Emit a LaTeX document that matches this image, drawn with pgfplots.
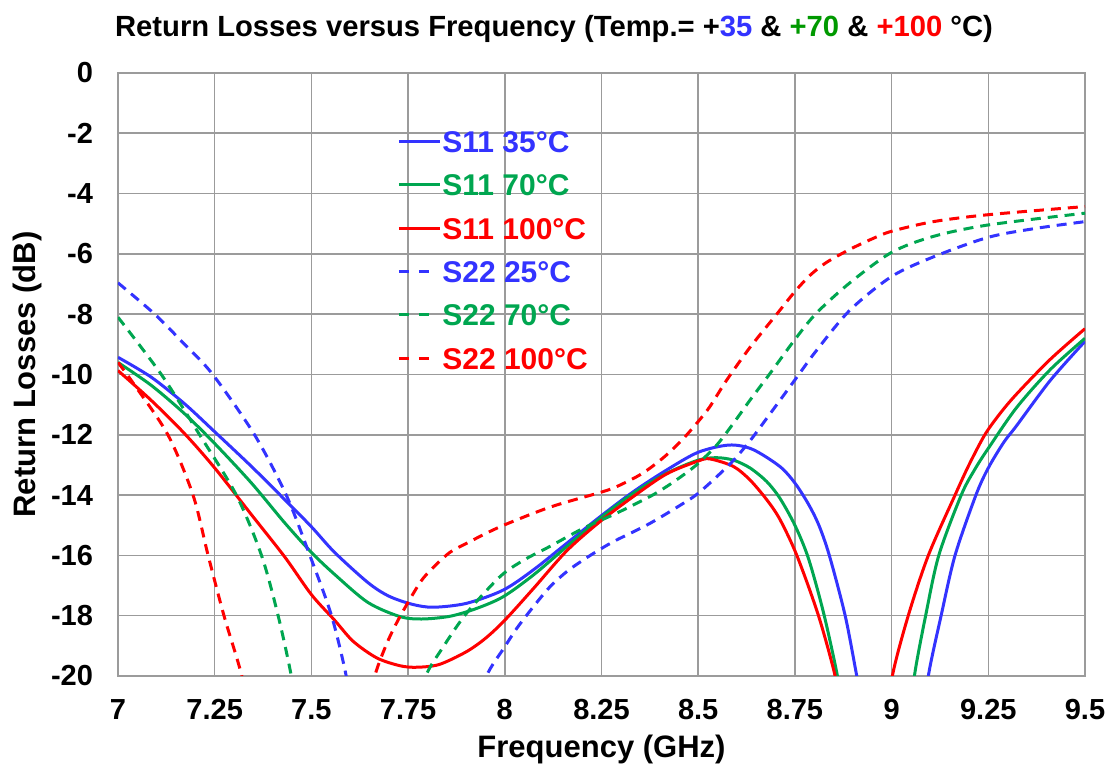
\documentclass[border=0pt]{standalone}
\usepackage{fontspec}
\setmainfont{Liberation Sans}
\usepackage{pgfplots}
\pgfplotsset{compat=1.18}
\usepackage{pgfplotstable}

\definecolor{cb}{RGB}{51,51,255}
\definecolor{cg}{RGB}{0,166,80}
\definecolor{cr}{RGB}{255,0,0}
\definecolor{tg}{RGB}{0,153,0}
\definecolor{gridc}{RGB}{155,155,155}

\pgfplotsset{
    dashleg/.style={legend image code/.code={\draw[##1, dash pattern=on 5pt off 5pt] (0pt,0pt) -- (15pt,0pt);}},
}

% S11, solid
\pgfplotstableread{
f db
7.000 -9.43
7.086 -10.09
7.172 -10.97
7.250 -11.90
7.345 -13.05
7.431 -14.15
7.500 -15.05
7.560 -15.90
7.646 -16.90
7.700 -17.35
7.760 -17.62
7.815 -17.72
7.901 -17.59
7.996 -17.15
8.074 -16.48
8.160 -15.60
8.246 -14.72
8.332 -13.89
8.418 -13.17
8.500 -12.58
8.580 -12.34
8.640 -12.48
8.711 -13.05
8.750 -13.60
8.785 -14.30
8.812 -15.00
8.839 -16.00
8.880 -18.00
8.910 -20.00
8.925 -21.00
nan nan
9.085 -21.50
9.095 -20.00
9.128 -18.00
9.164 -16.00
9.218 -14.00
9.250 -13.10
9.290 -12.25
9.323 -11.70
9.410 -10.20
9.500 -8.90
}\sOneOneA

\pgfplotstableread{
f db
7.000 -9.60
7.086 -10.36
7.172 -11.30
7.250 -12.29
7.345 -13.60
7.431 -14.92
7.500 -15.90
7.560 -16.63
7.646 -17.56
7.729 -18.03
7.785 -18.11
7.858 -18.02
7.927 -17.76
7.996 -17.37
8.074 -16.65
8.160 -15.71
8.246 -14.77
8.332 -13.94
8.418 -13.28
8.500 -12.84
8.548 -12.76
8.591 -12.84
8.634 -13.10
8.677 -13.55
8.711 -14.10
8.750 -15.00
8.785 -16.10
8.824 -17.90
8.860 -20.00
8.870 -21.00
nan nan
9.050 -21.50
9.059 -20.00
9.088 -18.00
9.122 -16.00
9.180 -14.00
9.215 -13.15
9.250 -12.45
9.323 -11.10
9.410 -9.84
9.500 -8.80
}\sOneOneB

\pgfplotstableread{
f db
7.000 -9.87
7.086 -10.86
7.172 -11.96
7.250 -13.10
7.345 -14.65
7.431 -16.05
7.500 -17.30
7.560 -18.15
7.608 -18.85
7.669 -19.40
7.729 -19.66
7.772 -19.71
7.830 -19.62
7.900 -19.20
7.950 -18.75
8.000 -18.15
8.074 -17.10
8.160 -15.85
8.246 -14.88
8.332 -14.05
8.418 -13.30
8.500 -12.87
8.530 -12.80
8.591 -13.05
8.634 -13.50
8.677 -14.15
8.711 -14.80
8.755 -16.00
8.811 -18.00
8.854 -20.00
8.864 -21.00
nan nan
8.992 -21.50
9.002 -20.00
9.043 -18.00
9.095 -16.00
9.164 -14.00
9.200 -13.00
9.241 -12.00
9.280 -11.30
9.323 -10.65
9.410 -9.50
9.500 -8.48
}\sOneOneC

% S22, dashed
\pgfplotstableread{
f db
7.000 -6.96
7.095 -8.00
7.172 -9.00
7.245 -10.00
7.353 -12.00
7.435 -14.00
7.496 -16.00
7.552 -18.00
7.590 -20.00
7.598 -21.00
nan nan
7.945 -21.00
7.953 -20.00
8.000 -19.03
8.031 -18.42
8.074 -17.70
8.117 -17.04
8.160 -16.54
8.203 -16.15
8.250 -15.77
8.289 -15.49
8.375 -14.94
8.462 -14.27
8.500 -13.94
8.548 -13.39
8.591 -12.85
8.634 -12.20
8.686 -11.30
8.750 -10.18
8.806 -9.20
8.892 -7.87
9.000 -6.75
9.108 -6.10
9.250 -5.45
9.375 -5.15
9.500 -4.93
}\sTwoTwoA

\pgfplotstableread{
f db
7.000 -8.10
7.112 -10.00
7.211 -12.00
7.306 -14.00
7.371 -16.00
7.414 -18.00
7.448 -20.00
7.456 -21.00
nan nan
7.790 -21.00
7.796 -20.00
7.841 -19.03
7.901 -17.92
7.988 -16.70
8.050 -16.15
8.117 -15.70
8.203 -15.10
8.289 -14.60
8.375 -14.05
8.418 -13.72
8.462 -13.33
8.500 -12.95
8.548 -12.34
8.591 -11.62
8.634 -10.85
8.686 -9.96
8.750 -8.84
8.806 -7.96
8.892 -6.96
9.000 -5.95
9.108 -5.42
9.250 -5.04
9.500 -4.65
}\sTwoTwoB

\pgfplotstableread{
f db
7.000 -9.60
7.040 -10.30
7.129 -12.00
7.194 -14.00
7.233 -16.00
7.274 -18.00
7.320 -20.00
7.326 -21.00
nan nan
7.655 -21.00
7.664 -20.00
7.695 -18.92
7.729 -18.03
7.781 -16.90
7.815 -16.40
7.858 -15.90
7.901 -15.60
7.988 -15.05
8.117 -14.40
8.250 -13.90
8.289 -13.72
8.341 -13.39
8.375 -13.11
8.418 -12.67
8.462 -12.12
8.500 -11.56
8.530 -11.07
8.574 -10.18
8.634 -9.10
8.703 -8.00
8.750 -7.25
8.790 -6.70
8.832 -6.28
8.892 -5.85
8.950 -5.50
9.000 -5.25
9.108 -4.93
9.250 -4.70
9.500 -4.43
}\sTwoTwoC

\begin{document}
\begin{tikzpicture}[font=\bfseries]
\begin{axis}[
    scale only axis,
    width=483.5pt, height=301.5pt,
    xmin=7, xmax=9.5,
    ymin=-20, ymax=0,
    xtick={7,7.25,7.5,7.75,8,8.25,8.5,8.75,9,9.25,9.5},
    xticklabels={7,7.25,7.5,7.75,8,8.25,8.5,8.75,9,9.25,9.5},
    ytick={-20,-18,-16,-14,-12,-10,-8,-6,-4,-2,0},
    yticklabels={-20,-18,-16,-14,-12,-10,-8,-6,-4,-2,0},
    grid=major,
    grid style={gridc, line width=0.8pt},
    axis line style={gridc, line width=1pt},
    tick style={draw=none},
    ticklabel style={font=\fontsize{14.5}{17}\bfseries},
    yticklabel style={xshift=-9pt},
    xticklabel style={yshift=-8pt},
    title={Return Losses versus Frequency (Temp.= +\textcolor{cb}{35} \& \textcolor{tg}{+70} \& \textcolor{cr}{+100} °C)},
    title style={at={(axis description cs:0.4509,1.053)}, anchor=center, font=\fontsize{14.6}{17}\bfseries},
    xlabel={Frequency (GHz)},
    ylabel={Return Losses (dB)},
    label style={font=\fontsize{15.5}{18}\bfseries},
    xlabel style={at={(axis description cs:0.5,-0.1227)}, anchor=center},
    ylabel style={at={(axis description cs:-0.0941,0.5)}, anchor=center},
    legend style={at={(axis description cs:0.2885,0.9055)}, anchor=north west,
        draw=none, fill=none, inner sep=0pt, row sep=10.7pt, column sep=0.5pt,
        nodes={inner sep=0pt, text height=11pt, text depth=0pt, font=\fontsize{15}{18}\bfseries}},
    legend cell align=left,
    legend image code/.code={\draw[#1] (0pt,0pt) -- (20.5pt,0pt);},
    unbounded coords=jump,
    every axis plot/.append style={line width=1.5pt, smooth},
]
\coordinate (O) at (rel axis cs:0,0);
\addplot[cb] table[x=f, y=db] {\sOneOneA};
\addlegendentry{\textcolor{cb}{S11 35°C}}
\addplot[cg] table[x=f, y=db] {\sOneOneB};
\addlegendentry{\textcolor{cg}{S11 70°C}}
\addplot[cr] table[x=f, y=db] {\sOneOneC};
\addlegendentry{\textcolor{cr}{S11 100°C}}
\addplot[cb, dash pattern=on 5pt off 3.5pt, dashleg] table[x=f, y=db] {\sTwoTwoA};
\addlegendentry{\textcolor{cb}{S22 25°C}}
\addplot[cg, dash pattern=on 5pt off 3.5pt, dashleg] table[x=f, y=db] {\sTwoTwoB};
\addlegendentry{\textcolor{cg}{S22 70°C}}
\addplot[cr, dash pattern=on 5pt off 3.5pt, dashleg] table[x=f, y=db] {\sTwoTwoC};
\addlegendentry{\textcolor{cr}{S22 100°C}}
\end{axis}
\pgfresetboundingbox
\path[use as bounding box] (O) ++(-59pt,-46.5pt) rectangle ++(554.5pt,384.5pt);
\end{tikzpicture}
\end{document}
